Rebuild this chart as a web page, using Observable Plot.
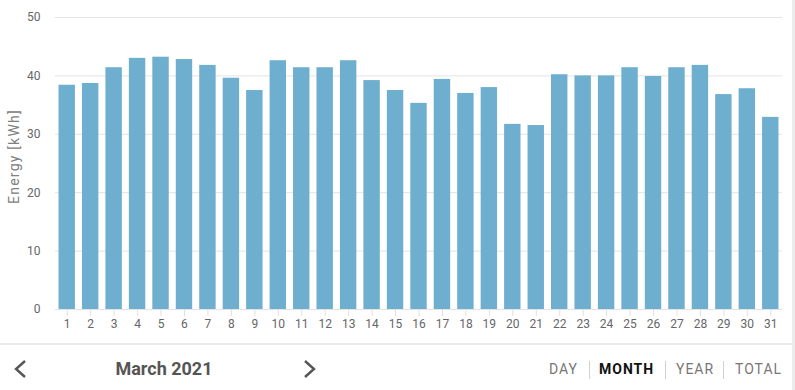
<!DOCTYPE html>
<html>
<head>
<meta charset="utf-8">
<script src="https://cdn.jsdelivr.net/npm/d3@7"></script>
<script src="https://cdn.jsdelivr.net/npm/@observablehq/plot@0.6"></script>
<style>
  html, body { margin: 0; padding: 0; background: #fff; }
  body { width: 795px; height: 390px; position: relative; overflow: hidden; font-family: Roboto, "Open Sans", sans-serif; }
  #chart { position: absolute; left: 0; top: 0; }
  #strip { position: absolute; left: 792px; top: 0; width: 3px; height: 390px; background: #ececec; }
  #sep { position: absolute; left: 0; top: 343px; width: 792px; height: 2px; background: #eaeaea; }
  .nav { position: absolute; top: 358px; height: 22px; line-height: 22px; }
  #month { left: 89px; width: 150px; text-align: center; font-size: 18px; font-weight: 700; color: #555; }
  .mode { font-size: 14px; letter-spacing: 1px; color: #777; }
  .mode.active { font-weight: 700; color: #111; }
  .vsep { position: absolute; top: 361px; width: 1px; height: 18px; background: #d0d0d0; }
  svg.chev { position: absolute; top: 356px; }
  .ylab text { letter-spacing: 1.2px; font-size: 14px; }
</style>
</head>
<body>
<div id="chart"></div>
<div id="strip"></div>
<div id="sep"></div>
<svg class="chev" style="left:10px" width="20" height="26"><polyline points="15,5 6,13 15,21" fill="none" stroke="#555" stroke-width="2.4"/></svg>
<svg class="chev" style="left:300px" width="20" height="26"><polyline points="5,5 14,13 5,21" fill="none" stroke="#555" stroke-width="2.4"/></svg>
<div id="month" class="nav">March 2021</div>
<div class="nav mode" style="left:549px">DAY</div>
<div class="vsep" style="left:589px"></div>
<div class="nav mode active" style="left:599px">MONTH</div>
<div class="vsep" style="left:665px"></div>
<div class="nav mode" style="left:676px">YEAR</div>
<div class="vsep" style="left:723px"></div>
<div class="nav mode" style="left:735px">TOTAL</div>
<script>
const days = d3.range(1, 32);
const energy = [38.4, 38.7, 41.4, 43.0, 43.2, 42.8, 41.8, 39.6, 37.5, 42.6,
                41.4, 41.4, 42.6, 39.2, 37.5, 35.3, 39.4, 37.0, 38.0, 31.7,
                31.5, 40.2, 40.0, 40.0, 41.4, 39.9, 41.4, 41.8, 36.8, 37.8, 32.9];
const yTicks = [0, 10, 20, 30, 40, 50];
const yLabel = "Energy [kWh]";

const data = days.map((d, i) => ({day: d, value: energy[i]}));

const chart = Plot.plot({
  width: 792,
  height: 335,
  marginTop: 17,
  marginBottom: 26,
  marginLeft: 55,
  marginRight: 10,
  style: {fontFamily: "Roboto, sans-serif", fontSize: "12px", background: "white"},
  x: {type: "band", domain: days, paddingInner: 0.3, paddingOuter: 0.15, round: false, label: null},
  y: {domain: [0, 50], label: null},
  marks: [
    Plot.gridY(yTicks, {stroke: "#e3e3e3", strokeOpacity: 1}),
    Plot.barY(data, {x: "day", y: "value", fill: "#6eafcf"}),
    Plot.axisY(yTicks, {tickSize: 0, tickPadding: 15, fill: "#666", label: null, fontSize: 12}),
    Plot.axisX(days, {tickSize: 7, tickPadding: 3, stroke: "#e0e0e0", fill: "#666", label: null, fontSize: 12}),
    Plot.text([yLabel], {frameAnchor: "left", dx: -41, dy: -7, rotate: -90, fill: "#808080", fontSize: 14, textAnchor: "middle",
      className: "ylab"})
  ]
});
document.getElementById("chart").appendChild(chart);
</script>
</body>
</html>
